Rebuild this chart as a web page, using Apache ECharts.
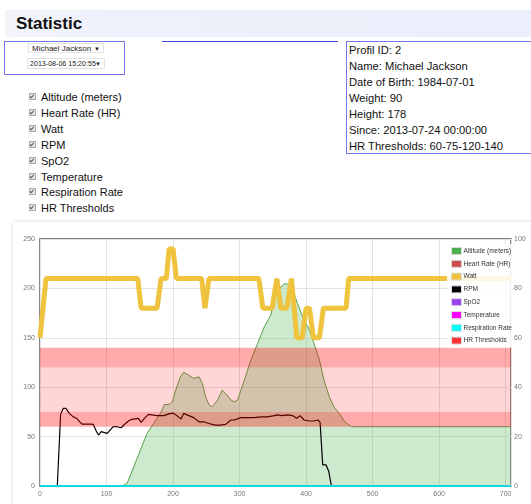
<!DOCTYPE html>
<html>
<head>
<meta charset="utf-8">
<script src="https://cdn.jsdelivr.net/npm/echarts@6/dist/echarts.min.js"></script>
<style>
  body { margin: 0; width: 531px; height: 504px; overflow: hidden; background: #fff; position: relative;
         font-family: Arial, "Liberation Sans", sans-serif; color: #111; }
  .head { position: absolute; left: 5px; top: 10px; width: 526px; height: 27px;
          background: linear-gradient(to right, #f4f5fb 0%, #eef1fb 20%, #ebeffb 100%); }
  .title { position: absolute; left: 16px; top: 14px; font-size: 17px; font-weight: bold; line-height: 20px; }
  .selbox { position: absolute; left: 4px; top: 41px; width: 119px; height: 32px; border: 1px solid #7474ee; }
  .sel { position: absolute; background: #fff; border: 1px solid #e2e2e2; color: #222; white-space: nowrap; }
  .sel .arr { position: absolute; right: 3px; top: 0; font-size: 6px; }
  .bline { position: absolute; left: 162px; top: 41px; width: 176px; height: 1px; background: #4747dd; }
  .prof { position: absolute; left: 346px; top: 41px; width: 200px; height: 111px; border: 1px solid #7474ee;
          font-size: 11.2px; line-height: 16px; padding-left: 2px; }
  .checks { position: absolute; left: 29px; top: 90px; font-size: 11px; line-height: 15.9px; }
  .cb { display: inline-block; width: 5px; height: 5px; border: 1px solid #aaa; background: #e4e4e4;
        margin-right: 5px; vertical-align: 1px; position: relative; }
  .cb:after { content: ""; position: absolute; left: 1px; top: 0px; width: 1px; height: 3px;
              border: solid #555; border-width: 0 1px 1px 0; transform: rotate(40deg); }
  .panel { position: absolute; left: 13px; top: 222px; width: 530px; height: 300px; background: #fff;
           box-shadow: 0 0 4px rgba(0,0,0,0.18); }
  #chart { position: absolute; left: 13px; top: 222px; width: 518px; height: 282px; }
</style>
</head>
<body>
<div class="head"></div>
<div class="title">Statistic</div>
<div class="selbox"></div>
<div class="sel" style="left:28px;top:43px;width:76px;height:10px;font-size:8px;line-height:10px;padding-left:3px;box-sizing:border-box;">Michael Jackson<span class="arr">&#9660;</span></div>
<div class="sel" style="left:27px;top:58px;width:78px;height:11px;font-size:7.1px;line-height:11px;padding-left:2px;box-sizing:border-box;">2013-08-06 15:20:55<span class="arr">&#9660;</span></div>
<div class="bline"></div>
<div class="prof">
  <div>Profil ID: 2</div>
  <div>Name: Michael Jackson</div>
  <div>Date of Birth: 1984-07-01</div>
  <div>Weight: 90</div>
  <div>Height: 178</div>
  <div>Since: 2013-07-24 00:00:00</div>
  <div>HR Thresholds: 60-75-120-140</div>
</div>
<div class="checks">
  <div><span class="cb"></span>Altitude (meters)</div>
  <div><span class="cb"></span>Heart Rate (HR)</div>
  <div><span class="cb"></span>Watt</div>
  <div><span class="cb"></span>RPM</div>
  <div><span class="cb"></span>SpO2</div>
  <div><span class="cb"></span>Temperature</div>
  <div><span class="cb"></span>Respiration Rate</div>
  <div><span class="cb"></span>HR Thresholds</div>
</div>
<div class="panel"></div>
<div id="chart"></div>
<script>
// series names, in legend order
var seriesNames = ['Altitude (meters)', 'Heart Rate (HR)', 'Watt', 'RPM', 'SpO2', 'Temperature', 'Respiration Rate', 'HR Thresholds'];
var seriesColors = ['#4caf50', '#cc4b4b', '#efc33e', '#000000', '#9944ee', '#ff00ff', '#00ffff', '#ff3333'];

// altitude, meters (right axis)
var altitude = [[0,0],[123,0],[127,0.5],[131,1.1],[141,7.8],[151,14.6],[161,21.3],[171,25.4],[181,29.4],[187,33],[194,33],
  [199,34.1],[204,38.8],[211,44.2],[216,46],[224,44.8],[231,43.6],[239,44.2],[244,41.6],[249,36.2],[254,32.8],[259,32.1],
  [267,34.8],[274,38.8],[279,37.5],[287,34.8],[292,34.1],[297,34.8],[307,42.8],[317,51],[327,57.6],[337,64.4],[347,69.2],
  [352,76],[360,80],[367,81.8],[372,81.8],[380,79.2],[387,74],[395,68.4],[405,63.2],[412,57.6],[420,51],[427,42.8],
  [435,36],[442,32],[450,29.4],[458,26],[468,24],[708,24]];

// watt (left axis)
var watt = [[0,150],[3,150],[9,210],[147,210],[152,180],[176,180],[182,210],[190,210],[194,240],[200,240],[205,210],
  [243,210],[248,180],[254,210],[329,210],[335,180],[349,180],[356,210],[362,180],[371,180],[378,210],[386,150],[394,150],
  [400,180],[405,180],[411,150],[420,150],[426,180],[460,180],[464,210],[708,210]];

// rpm (left axis)
var rpm = [[0,0],[26,0],[31,72.5],[35,78.6],[39,78.6],[44,73.5],[50,70],[55,68.5],[63,62.7],[68,62.7],[71,64.4],[76,62.7],
  [80,62.4],[85,55],[88,51.6],[92,55],[95,53.3],[101,53.3],[110,60],[116,60],[122,59],[126,61.7],[133,65.8],[138,67.5],
  [148,68.5],[152,64.4],[158,69.2],[163,72.5],[166,72],[176,71.2],[186,71.2],[196,73.5],[201,73.5],[208,70],[212,67.8],
  [216,73.5],[221,72],[224,71.2],[231,69.2],[239,65],[246,65],[254,63.3],[259,62.4],[264,61.7],[271,61.7],[279,62.4],
  [287,66.8],[292,66.8],[302,69.2],[312,69.2],[322,69.2],[332,70],[342,70],[352,71.2],[357,72],[364,71.2],[372,72],
  [380,71.2],[386,68.5],[391,71.2],[397,66.8],[405,65.8],[412,65.8],[418,66.8],[421,64.4],[425,21.3],[430,21.3],
  [434,15],[438,0],[708,0]];

// series that stay at zero the whole ride
var flatZero = [[0,0],[708,0]];

// heart rate thresholds
var hrThresholds = [60, 75, 120, 140];

var xMax = 708;

(function() {
  var chart = echarts.init(document.getElementById('chart'), null, { renderer: 'canvas' });
  var axisText = { color: '#777', fontSize: 7, fontFamily: 'Arial' };

  function lineSeries(idx, data, extra) {
    var s = {
      name: seriesNames[idx],
      type: 'line',
      data: data,
      showSymbol: false,
      symbol: 'none',
      color: seriesColors[idx],
      lineStyle: { color: seriesColors[idx], width: 1.2 },
      z: 2
    };
    for (var k in extra) s[k] = extra[k];
    return s;
  }

  var bandDark = 'rgba(255,0,0,0.33)';
  var bandLight = 'rgba(255,0,0,0.165)';

  chart.setOption({
    animation: false,
    grid: { left: 27, right: 20, top: 17, bottom: 18, show: true, borderColor: '#555', borderWidth: 1.4 },
    legend: {
      data: seriesNames,
      orient: 'vertical',
      left: 434, top: 22,
      padding: [3, 2, 3, 4],
      itemWidth: 10, itemHeight: 7, itemGap: 4.8,
      icon: 'rect',
      backgroundColor: 'rgba(255,255,255,0.85)',
      itemStyle: { borderColor: '#dddddd', borderWidth: 1 },
      textStyle: { fontSize: 6.5, lineHeight: 7, color: '#333', fontFamily: 'Arial', padding: [0, 0, 0, -3] },
      z: 10
    },
    xAxis: {
      type: 'value', min: 0, max: xMax, interval: 100,
      axisLine: { show: false }, axisTick: { show: false },
      axisLabel: Object.assign({ margin: 5, showMaxLabel: false }, axisText),
      splitLine: { show: true, lineStyle: { color: '#e2e2e2', width: 1 } }
    },
    yAxis: [{
      type: 'value', min: 0, max: 250, interval: 50,
      axisLine: { show: false }, axisTick: { show: false },
      axisLabel: Object.assign({ margin: 5 }, axisText),
      splitLine: { show: true, lineStyle: { color: '#e2e2e2', width: 1 } }
    }, {
      type: 'value', min: 0, max: 100, interval: 20, position: 'right',
      axisLine: { show: false }, axisTick: { show: false },
      axisLabel: Object.assign({ margin: 3 }, axisText),
      splitLine: { show: false }
    }],
    series: [
      lineSeries(0, altitude, {
        yAxisIndex: 1,
        lineStyle: { color: '#5aa04c', width: 1 },
        areaStyle: { color: 'rgba(76,175,80,0.4)' }
      }),
      lineSeries(1, flatZero, {}),
      lineSeries(2, watt, { lineStyle: { color: seriesColors[2], width: 5 }, z: 3 }),
      lineSeries(3, rpm, {}),
      lineSeries(4, flatZero, { yAxisIndex: 1 }),
      lineSeries(5, flatZero, { yAxisIndex: 1 }),
      lineSeries(6, flatZero, { yAxisIndex: 1, lineStyle: { color: '#14d8dc', width: 2 }, z: 6 }),
      lineSeries(7, flatZero, {
        z: 5,
        lineStyle: { color: seriesColors[7], width: 1 },
        markArea: {
          silent: true,
          z: 5,
          label: { show: false },
          data: [
            [{ yAxis: hrThresholds[0], itemStyle: { color: bandDark } }, { yAxis: hrThresholds[1] }],
            [{ yAxis: hrThresholds[1], itemStyle: { color: bandLight } }, { yAxis: hrThresholds[2] }],
            [{ yAxis: hrThresholds[2], itemStyle: { color: bandDark } }, { yAxis: hrThresholds[3] }]
          ]
        }
      })
    ]
  });
  window.addEventListener('resize', function() { chart.resize(); });
})();
</script>
</body>
</html>
